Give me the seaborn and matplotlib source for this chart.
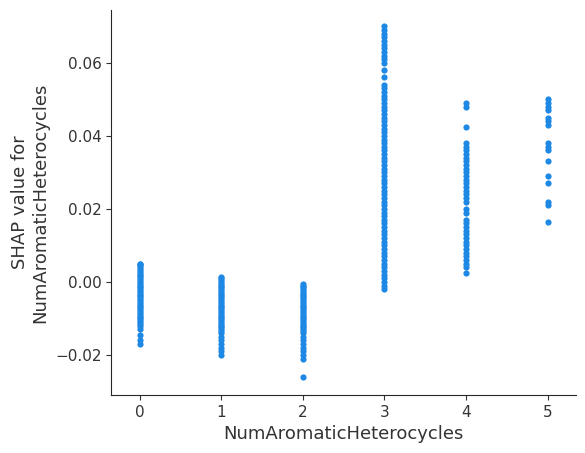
import pandas as pd
import seaborn as sns
import matplotlib.pyplot as plt

# SHAP values, per NumAromaticHeterocycles count
shap_0 = [0.005, 0.0048, 0.0045, 0.004, 0.0035, 0.003, 0.0025, 0.002, 0.0015, 0.001,
          0.0005, 0.0, -0.0005, -0.001, -0.0015, -0.002, -0.0025, -0.003, -0.0035, -0.004,
          -0.0045, -0.005, -0.0055, -0.006, -0.0065, -0.007, -0.0075, -0.008, -0.0085, -0.009,
          -0.0095, -0.010, -0.0105, -0.011, -0.0115, -0.012, -0.013, -0.0145, -0.016, -0.017]
shap_1 = [0.0012, 0.001, 0.0005, 0.0, -0.0005, -0.001, -0.0015, -0.002, -0.0025, -0.003,
          -0.0035, -0.004, -0.0045, -0.005, -0.0055, -0.006, -0.0065, -0.007, -0.0075, -0.008,
          -0.0085, -0.009, -0.0095, -0.010, -0.0105, -0.011, -0.0115, -0.012, -0.0125, -0.013,
          -0.0135, -0.014, -0.015, -0.016, -0.017, -0.018, -0.019, -0.020]
shap_2 = [-0.0005, -0.001, -0.0015, -0.002, -0.0025, -0.003, -0.0035, -0.004, -0.0045, -0.005,
          -0.0055, -0.006, -0.0065, -0.007, -0.0075, -0.008, -0.0085, -0.009, -0.0095, -0.010,
          -0.0105, -0.011, -0.0115, -0.012, -0.0125, -0.013, -0.0135, -0.014, -0.015, -0.016,
          -0.017, -0.018, -0.019, -0.020, -0.021, -0.026]
shap_3 = [0.070, 0.069, 0.068, 0.067, 0.066, 0.065, 0.064, 0.063, 0.062, 0.061, 0.060,
          0.058, 0.056, 0.054, 0.053, 0.052, 0.051, 0.050, 0.049, 0.048, 0.047, 0.046,
          0.045, 0.044, 0.043, 0.042, 0.041, 0.040, 0.039, 0.038, 0.037, 0.036, 0.035,
          0.034, 0.033, 0.032, 0.031, 0.030, 0.029, 0.028, 0.027, 0.026, 0.025, 0.024,
          0.023, 0.022, 0.021, 0.020, 0.019, 0.018, 0.017, 0.016, 0.015, 0.014, 0.013,
          0.012, 0.011, 0.010, 0.009, 0.008, 0.007, 0.006, 0.005, 0.004, 0.003, 0.002,
          0.001, 0.0, -0.001, -0.002]
shap_4 = [0.049, 0.048, 0.0425, 0.038, 0.037, 0.036, 0.035, 0.034, 0.033, 0.032, 0.031,
          0.030, 0.029, 0.028, 0.027, 0.026, 0.025, 0.024, 0.023, 0.022, 0.020, 0.019,
          0.017, 0.016, 0.015, 0.014, 0.013, 0.012, 0.011, 0.010, 0.009, 0.008, 0.007,
          0.006, 0.005, 0.004, 0.0025]
shap_5 = [0.050, 0.049, 0.048, 0.047, 0.045, 0.044, 0.043, 0.038, 0.037, 0.036, 0.033,
          0.029, 0.027, 0.022, 0.021, 0.0165]

groups = [shap_0, shap_1, shap_2, shap_3, shap_4, shap_5]
df = pd.DataFrame({
    'NumAromaticHeterocycles': [i for i, g in enumerate(groups) for _ in g],
    'shap': [v for g in groups for v in g],
})

sns.set_style('ticks')
fig, ax = plt.subplots(figsize=(5.85, 4.53), dpi=100)
sns.scatterplot(data=df, x='NumAromaticHeterocycles', y='shap', color='#1E88E5',
                s=20, linewidth=0, ax=ax)
ax.set_xticks(range(6))
ax.set_xlim(-0.35, 5.35)
ax.set_ylim(-0.031, 0.0745)
ax.set_xlabel('NumAromaticHeterocycles', fontsize=13, color='#333333')
ax.set_ylabel('SHAP value for\nNumAromaticHeterocycles', fontsize=13, color='#333333')
ax.tick_params(labelsize=11, colors='#333333')
sns.despine(ax=ax)
fig.subplots_adjust(left=0.19, right=0.985, top=0.978, bottom=0.128)
fig.savefig('out.png')
